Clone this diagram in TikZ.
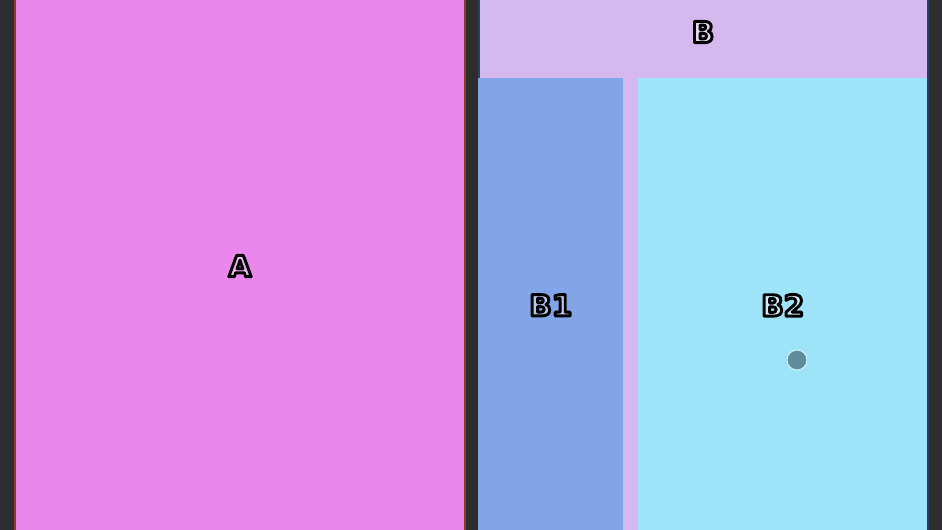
\documentclass[tikz,border=0pt]{standalone}
\usepackage{fontspec}
\setmainfont{DejaVu Sans}
\usetikzlibrary{positioning}

\definecolor{bgdark}{HTML}{2D2D2D}
\definecolor{paneA}{HTML}{EA86EC}
\definecolor{edgeA}{HTML}{8A3A2C}
\definecolor{paneB}{HTML}{D5B8EE}
\definecolor{edgeB}{HTML}{2A3F5C}
\definecolor{paneBa}{HTML}{82A4E8}
\definecolor{paneBb}{HTML}{9DE4F8}
\definecolor{dotfill}{HTML}{5E8C9A}
\definecolor{dotrim}{HTML}{D2F4FC}

% heavy outlined letters
\newcommand{\panelname}[2]{%
  {\color{#2}\special{pdf:literal direct 0 G 2.2 w 1 j 2 Tr}#1\special{pdf:literal direct 0 Tr}}}

\begin{document}
\begin{tikzpicture}[
  x=0.75pt,y=-0.75pt,
  font=\bfseries\fontsize{22}{22}\selectfont,
  panel/.style={inner sep=0pt,anchor=north west},
  dot/.style={circle,fill=dotfill,draw=dotrim,line width=0.75pt,minimum size=15pt,inner sep=0pt},
]
  \fill[bgdark] (0,0) rectangle (942,530);
  \useasboundingbox (0,0) rectangle (942,530);

  \node[panel,fill=paneA,draw=edgeA,line width=1.5pt,minimum width=337.5pt,minimum height=400.5pt] (A) at (14,-2) {\panelname{A}{paneA!60!white}};
  \node[panel,fill=paneB,draw=edgeB,line width=1.5pt,minimum width=336.75pt,minimum height=400.5pt] (B) at (478,-2) {};
  \node (Btitle) at (703,32) {\panelname{B}{paneB!55!white}};

  \node[panel,fill=paneBa,minimum width=108.75pt,minimum height=340.5pt] (B1) at (478,78) {\panelname{B1}{paneBa!60!white}};
  \node[panel,fill=paneBb,minimum width=216.75pt,minimum height=340.5pt] (B2) at (638,78) {\panelname{B2}{paneBb!55!white}};

  \node[dot] (pin) at (797,360) {};
\end{tikzpicture}
\end{document}
